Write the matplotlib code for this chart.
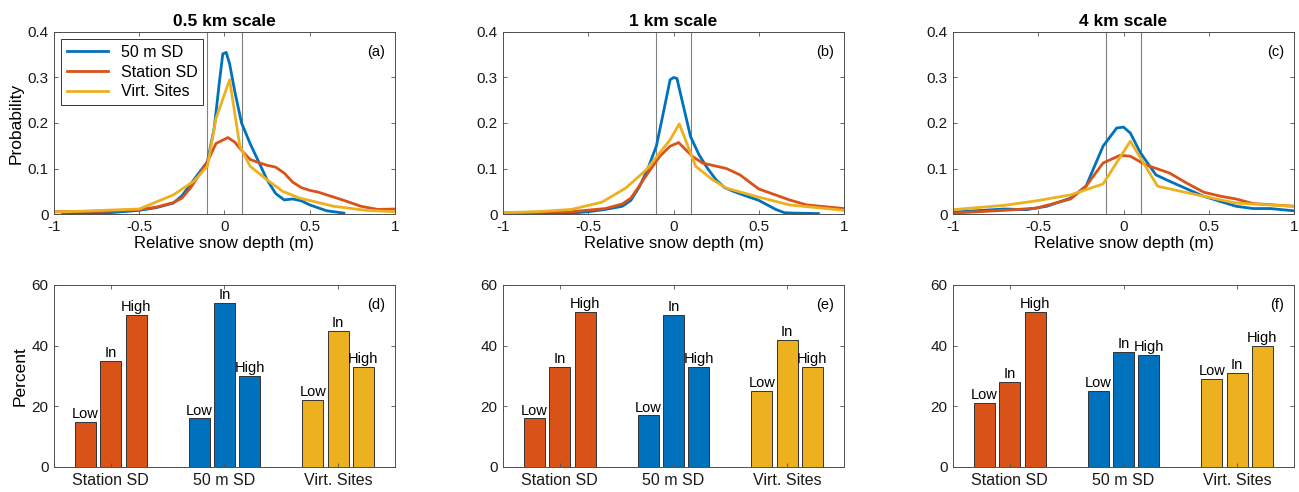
import numpy as np
import matplotlib
matplotlib.use('Agg')
import matplotlib.pyplot as plt

plt.rcParams['font.family'] = ['Liberation Sans', 'DejaVu Sans']

BLUE = '#0072BD'
ORANGE = '#D95319'
YELLOW = '#EDB120'

titles = ['0.5 km scale', '1 km scale', '4 km scale']
top_letters = ['(a)', '(b)', '(c)']
bot_letters = ['(d)', '(e)', '(f)']

# --- PDF curves ---
# panel (a) 0.5 km
a_blue_x = [-0.95, -0.7, -0.5, -0.4, -0.3, -0.25, -0.2, -0.15, -0.1, -0.06, -0.03, -0.01, 0.01, 0.03, 0.06, 0.1, 0.15,
            0.2, 0.25, 0.3, 0.35, 0.4, 0.45, 0.5, 0.6, 0.7]
a_blue_y = [0.001, 0.002, 0.008, 0.014, 0.024, 0.04, 0.065, 0.09, 0.115, 0.19, 0.29, 0.352, 0.355, 0.33, 0.27, 0.2,
            0.155, 0.115, 0.075, 0.045, 0.031, 0.033, 0.029, 0.02, 0.007, 0.002]
a_orange_x = [-1, -0.7, -0.5, -0.4, -0.3, -0.25, -0.2, -0.15, -0.1, -0.05, 0.02, 0.06, 0.1, 0.15, 0.2, 0.25, 0.3, 0.35,
              0.4, 0.45, 0.5, 0.55, 0.6, 0.7, 0.8, 0.9, 1.0]
a_orange_y = [0.005, 0.006, 0.01, 0.015, 0.025, 0.035, 0.057, 0.085, 0.115, 0.155, 0.168, 0.158, 0.14, 0.12, 0.113,
              0.107, 0.103, 0.09, 0.07, 0.058, 0.052, 0.048, 0.042, 0.03, 0.017, 0.01, 0.011]
a_yellow_x = [-1, -0.5, -0.3, -0.18, -0.1, -0.05, 0.03, 0.09, 0.15, 0.25, 0.34, 0.44, 0.64, 0.83, 1.0]
a_yellow_y = [0.004, 0.011, 0.042, 0.072, 0.105, 0.21, 0.295, 0.149, 0.105, 0.075, 0.05, 0.035, 0.017, 0.008, 0.005]

# panel (b) 1 km
b_blue_x = [-1, -0.6, -0.5, -0.4, -0.3, -0.25, -0.2, -0.15, -0.1, -0.05, -0.02, 0.0, 0.02, 0.05, 0.1, 0.15, 0.2,
            0.25, 0.3, 0.35, 0.4, 0.5, 0.55, 0.6, 0.65, 0.7, 0.85]
b_blue_y = [0.001, 0.002, 0.005, 0.01, 0.017, 0.03, 0.06, 0.1, 0.15, 0.24, 0.295, 0.3, 0.298, 0.25, 0.17, 0.13, 0.1,
            0.075, 0.058, 0.05, 0.043, 0.03, 0.02, 0.01, 0.003, 0.002, 0.001]
b_orange_x = [-1, -0.6, -0.4, -0.3, -0.25, -0.2, -0.15, -0.08, -0.02, 0.03, 0.11, 0.17, 0.31, 0.39, 0.5, 0.68, 0.78,
              1.0]
b_orange_y = [0.003, 0.005, 0.012, 0.022, 0.035, 0.062, 0.09, 0.127, 0.149, 0.157, 0.127, 0.112, 0.1, 0.086, 0.055,
              0.031, 0.02, 0.012]
b_yellow_x = [-1, -0.8, -0.6, -0.42, -0.28, -0.16, -0.02, 0.034, 0.13, 0.23, 0.31, 0.48, 0.68, 1.0]
b_yellow_y = [0.003, 0.005, 0.01, 0.026, 0.057, 0.097, 0.163, 0.198, 0.105, 0.075, 0.057, 0.039, 0.02, 0.008]

# panel (c) 4 km
c_blue_x = [-1, -0.7, -0.57, -0.45, -0.31, -0.22, -0.12, -0.04, 0.0, 0.04, 0.1, 0.19, 0.27, 0.47, 0.66, 0.76, 0.86,
            1.0]
c_blue_y = [0.004, 0.011, 0.0095, 0.017, 0.035, 0.061, 0.149, 0.189, 0.191, 0.178, 0.134, 0.086, 0.072, 0.039, 0.017,
            0.012, 0.012, 0.007]
c_orange_x = [-1, -0.7, -0.51, -0.31, -0.22, -0.12, -0.02, 0.04, 0.13, 0.27, 0.37, 0.47, 0.57, 0.66, 0.76, 1.0]
c_orange_y = [0.002, 0.008, 0.013, 0.033, 0.061, 0.112, 0.129, 0.127, 0.108, 0.09, 0.068, 0.048, 0.039, 0.033, 0.023,
              0.017]
c_yellow_x = [-1, -0.7, -0.51, -0.31, -0.12, 0.04, 0.2, 0.47, 0.66, 1.0]
c_yellow_y = [0.0095, 0.019, 0.029, 0.042, 0.066, 0.16, 0.061, 0.039, 0.024, 0.017]

curves = [
    [(a_blue_x, a_blue_y), (a_orange_x, a_orange_y), (a_yellow_x, a_yellow_y)],
    [(b_blue_x, b_blue_y), (b_orange_x, b_orange_y), (b_yellow_x, b_yellow_y)],
    [(c_blue_x, c_blue_y), (c_orange_x, c_orange_y), (c_yellow_x, c_yellow_y)],
]
series_names = ['50 m SD', 'Station SD', 'Virt. Sites']
series_colors = [BLUE, ORANGE, YELLOW]

# --- bar percentages: Low, In, High ---
groups = ['Station SD', '50 m SD', 'Virt. Sites']
group_colors = [ORANGE, BLUE, YELLOW]
bar_labels = ['Low', 'In', 'High']
d_station = [15, 35, 50]
d_50m = [16, 54, 30]
d_virt = [22, 45, 33]
e_station = [16, 33, 51]
e_50m = [17, 50, 33]
e_virt = [25, 42, 33]
f_station = [21, 28, 51]
f_50m = [25, 38, 37]
f_virt = [29, 31, 40]
bars = [[d_station, d_50m, d_virt], [e_station, e_50m, e_virt], [f_station, f_50m, f_virt]]

W, H = 1299, 492
fig = plt.figure(figsize=(W / 100, H / 100), dpi=100)

lefts = [54, 503, 953]
axw = 341


def rect(left, top, bottom):
    return [left / W, 1 - bottom / H, axw / W, (bottom - top) / H]


def style(ax):
    for s in ax.spines.values():
        s.set_color('0.3')
        s.set_linewidth(0.7)
    ax.tick_params(direction='in', top=True, right=True, length=3, width=0.6,
                   color='0.3', labelsize=11, labelcolor='0.1', pad=4)


for i in range(3):
    ax = fig.add_axes(rect(lefts[i], 32, 214))
    style(ax)
    ax.axvline(-0.1, color='0.5', linewidth=0.8)
    ax.axvline(0.1, color='0.5', linewidth=0.8)
    for (x, y), name, col in zip(curves[i], series_names, series_colors):
        ax.plot(x, y, color=col, linewidth=2, label=name)
    ax.set_xlim(-1, 1)
    ax.set_ylim(0, 0.4)
    ax.set_xticks([-1, -0.5, 0, 0.5, 1])
    ax.set_xticklabels(['-1', '-0.5', '0', '0.5', '1'])
    ax.set_yticks([0, 0.1, 0.2, 0.3, 0.4])
    ax.set_yticklabels(['0', '0.1', '0.2', '0.3', '0.4'])
    ax.set_xlabel('Relative snow depth (m)', fontsize=12, labelpad=2)
    ax.set_title(titles[i], fontsize=12.5, fontweight='bold', pad=4)
    ax.text(0.97, 0.93, top_letters[i], transform=ax.transAxes, ha='right', va='top', fontsize=10.5)
    if i == 0:
        ax.set_ylabel('Probability', fontsize=12.5, labelpad=3)
        leg = ax.legend(loc='upper left', fontsize=11.5, fancybox=False, framealpha=1,
                        edgecolor='0.2', borderpad=0.35, handlelength=2.6, labelspacing=0.3,
                        borderaxespad=0.45)
        leg.get_frame().set_linewidth(0.7)

    bx = fig.add_axes(rect(lefts[i], 285, 467))
    style(bx)
    offsets = [-0.222, 0, 0.222]
    for g in range(3):
        vals = bars[i][g]
        xs = [g + 1 + o for o in offsets]
        bx.bar(xs, vals, width=0.185, color=group_colors[g], edgecolor='0.2', linewidth=0.7)
        for xx, v, lab in zip(xs, vals, bar_labels):
            bx.text(xx, v + 0.3, lab, ha='center', va='bottom', fontsize=10.5)
    bx.set_xlim(0.5, 3.5)
    bx.set_ylim(0, 60)
    bx.set_xticks([1, 2, 3])
    bx.set_xticklabels(groups, fontsize=11.5)
    bx.set_yticks([0, 20, 40, 60])
    bx.text(0.97, 0.93, bot_letters[i], transform=bx.transAxes, ha='right', va='top', fontsize=10.5)
    if i == 0:
        bx.set_ylabel('Percent', fontsize=12.5, labelpad=3)

plt.savefig('out.png', dpi=100)
